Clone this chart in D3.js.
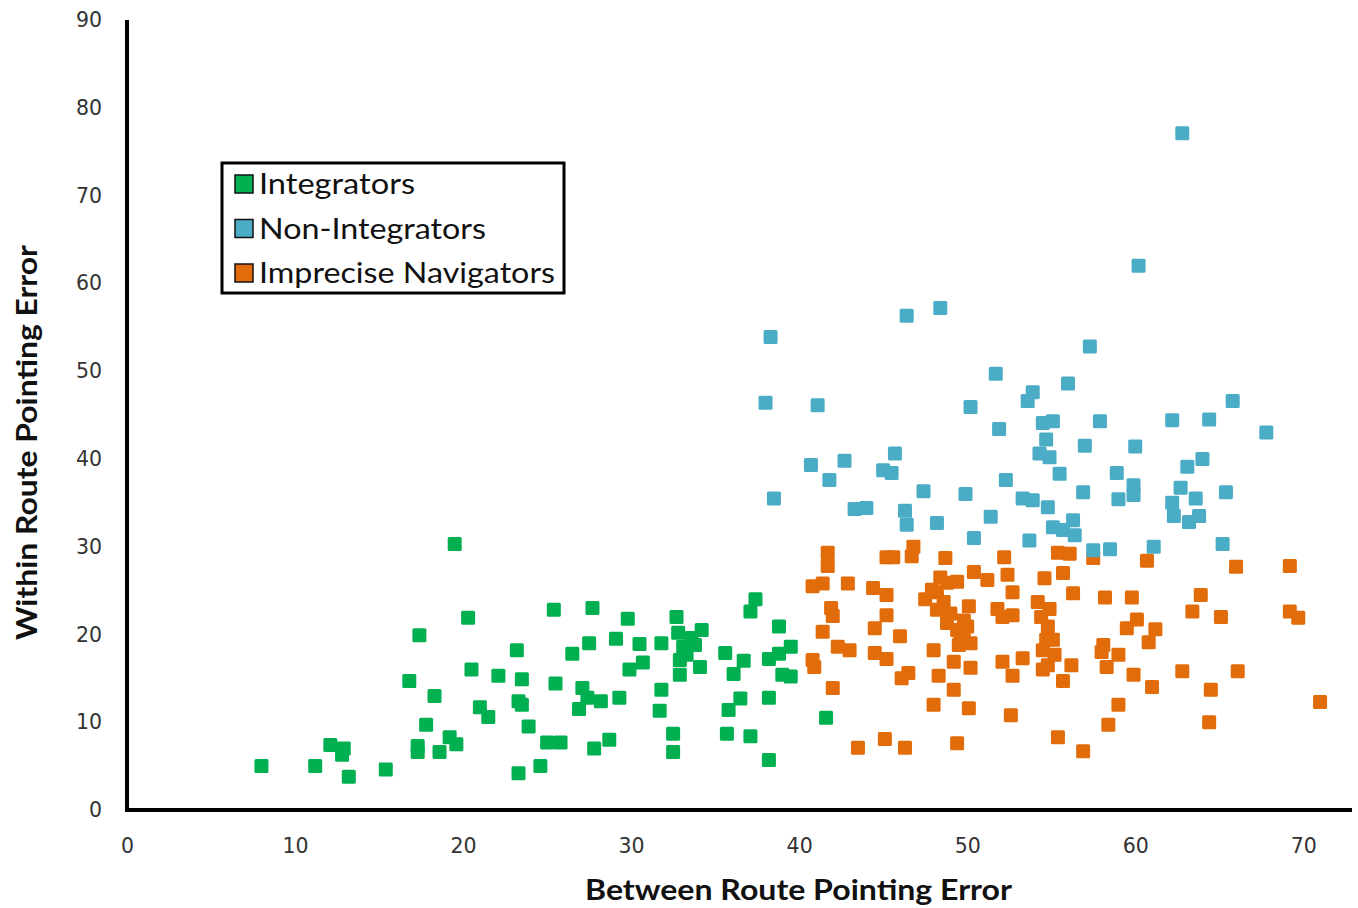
<!DOCTYPE html>
<html>
<head>
<meta charset="utf-8">
<script src="https://cdn.jsdelivr.net/npm/d3@7"></script>
<style>
  body { margin: 0; background: #fff; }
  svg { display: block; }
</style>
</head>
<body>
<svg id="chart" width="1358" height="908"></svg>
<script>
// series: [between route error, within route error]
const integrators = [
  [8.0,5.0],[11.2,5.0],[12.1,7.4],[12.9,7.0],[12.8,6.3],[13.2,3.8],[15.4,4.6],[19.5,30.3],[20.3,21.9],[17.4,19.9],
  [20.5,16.0],[22.1,15.3],[16.8,14.7],[18.3,13.0],[21.0,11.7],[21.5,10.6],[17.8,9.7],[19.2,8.3],[19.6,7.5],[17.3,7.3],
  [17.3,6.6],[18.6,6.6],[25.4,22.8],[27.7,23.0],[29.8,21.8],[32.7,22.0],[37.4,24.0],[37.1,22.6],[38.8,20.9],[34.2,20.5],
  [32.8,20.2],[23.2,18.2],[27.5,19.0],[29.1,19.5],[30.5,18.9],[31.8,19.0],[26.5,17.8],[33.1,18.6],[33.8,18.8],[30.7,16.8],
  [29.9,16.0],[32.9,17.1],[32.9,15.4],[34.1,16.3],[35.6,17.9],[36.7,17.0],[36.1,15.5],[38.2,17.2],[38.8,17.8],[39.5,18.6],
  [39.0,15.4],[39.5,15.2],[23.5,14.9],[25.5,14.4],[27.1,13.9],[27.4,12.8],[28.2,12.4],[26.9,11.5],[29.3,12.8],[31.8,13.7],
  [31.7,11.3],[23.3,12.4],[23.5,12.0],[36.5,12.7],[35.8,11.4],[38.2,12.8],[23.9,9.5],[25.0,7.7],[25.8,7.7],[28.7,8.0],
  [27.8,7.0],[32.5,8.7],[32.5,6.6],[35.7,8.7],[37.1,8.4],[38.2,5.7],[24.6,5.0],[23.3,4.2],[41.6,10.5],[33.3,17.7],[33.6,19.6]
];

const nonIntegrators = [
  [62.8,77.1],[60.2,62.0],[46.4,56.3],[48.4,57.2],[38.3,53.9],[51.7,49.7],[38.0,46.4],[41.1,46.1],[50.2,45.9],[51.9,43.4],
  [45.7,40.6],[40.7,39.3],[42.7,39.8],[41.8,37.6],[45.0,38.7],[45.5,38.4],[38.5,35.5],[47.4,36.3],[49.9,36.0],[52.3,37.6],
  [43.3,34.3],[44.0,34.4],[46.3,34.1],[46.4,32.5],[48.2,32.7],[51.4,33.4],[50.4,31.0],[57.3,52.8],[56.0,48.6],[53.9,47.6],
  [53.6,46.6],[65.8,46.6],[62.2,44.4],[64.4,44.5],[67.8,43.0],[57.9,44.3],[54.5,44.1],[55.1,44.3],[57.0,41.5],[60.0,41.4],
  [54.7,42.2],[54.3,40.6],[54.9,40.2],[64.0,40.0],[63.1,39.1],[55.5,38.3],[58.9,38.4],[56.9,36.2],[62.7,36.7],[59.9,37.0],
  [59.9,35.9],[63.6,35.5],[65.4,36.2],[59.0,35.4],[53.3,35.5],[53.9,35.3],[54.8,34.5],[62.2,35.0],[62.3,33.5],[63.2,32.8],
  [63.8,33.5],[55.1,32.2],[56.3,33.0],[56.4,31.3],[55.7,31.9],[53.7,30.7],[65.2,30.3],[57.5,29.6],[58.5,29.7],[61.1,30.0]
];

const impreciseNavigators = [
  [41.7,29.3],[41.7,27.8],[45.2,28.8],[45.6,28.8],[46.8,30.0],[46.7,28.9],[48.7,28.7],[52.2,28.8],[40.8,25.5],[41.4,25.8],
  [42.9,25.8],[44.4,25.3],[45.2,24.5],[48.4,26.5],[49.4,26.0],[50.4,27.1],[51.2,26.2],[52.4,26.8],[47.5,24.0],[48.2,24.8],
  [48.6,23.7],[48.2,22.8],[50.1,23.2],[41.9,23.0],[42.0,22.1],[45.2,22.2],[51.8,22.9],[52.1,22.0],[41.4,20.3],[44.5,20.7],
  [46.0,19.8],[48.8,21.3],[49.4,20.5],[49.6,19.6],[50.2,19.0],[49.5,18.8],[42.3,18.6],[43.0,18.2],[44.5,17.9],[45.2,17.2],
  [48.0,18.2],[49.2,16.9],[50.2,16.2],[52.1,16.9],[40.8,17.1],[40.9,16.3],[46.5,15.6],[46.1,15.0],[48.3,15.3],[49.2,13.7],
  [42.0,13.9],[48.0,12.0],[50.1,11.6],[52.6,10.8],[43.5,7.1],[45.1,8.1],[46.3,7.1],[49.4,7.6],[47.9,25.1],[48.8,25.9],
  [49.0,22.4],[49.8,21.6],[49.8,20.2],[50.0,20.9],[55.4,29.3],[56.1,29.2],[57.5,28.7],[60.7,28.4],[66.0,27.7],[69.2,27.8],
  [54.6,26.4],[55.7,27.0],[52.7,24.8],[56.3,24.7],[58.2,24.2],[59.8,24.2],[63.9,24.5],[63.4,22.6],[65.1,22.0],[69.2,22.6],
  [69.7,21.9],[54.2,23.7],[54.9,22.9],[52.7,22.2],[54.4,22.0],[54.8,20.9],[55.1,19.4],[54.5,18.2],[55.2,17.7],[60.1,21.7],
  [59.5,20.7],[61.2,20.6],[60.8,19.1],[58.1,18.8],[58.0,18.0],[59.0,17.7],[53.3,17.3],[52.7,15.3],[54.5,16.0],[56.2,16.5],
  [55.7,14.7],[58.3,16.3],[59.9,15.4],[61.0,14.0],[62.8,15.8],[66.1,15.8],[64.5,13.7],[71.0,12.3],[59.0,12.0],[58.4,9.7],
  [64.4,10.0],[55.4,8.3],[56.9,6.7],[54.7,19.4],[54.8,16.5]
];

const seriesNames = ["Integrators", "Non-Integrators", "Imprecise Navigators"];
const seriesColors = ["#00b050", "#4bacc6", "#e36c0a"];
const legendWidths = [156, 227, 296];
const xTicks = [0, 10, 20, 30, 40, 50, 60, 70];
const yTicks = [0, 10, 20, 30, 40, 50, 60, 70, 80, 90];

const svg = d3.select("#chart");

const x = d3.scaleLinear().domain([0, 72.9]).range([127, 1352]);
const y = d3.scaleLinear().domain([0, 90]).range([810, 20]);

// axes (no tick marks, just labels)
const yAxis = svg.append("g")
  .attr("transform", "translate(127,0)")
  .call(d3.axisLeft(y).tickValues(yTicks).tickSize(0).tickPadding(25));
yAxis.select(".domain").remove();

const xAxis = svg.append("g")
  .attr("transform", "translate(0,810)")
  .call(d3.axisBottom(x).tickValues(xTicks).tickSize(0).tickPadding(28));
xAxis.select(".domain").remove();

svg.selectAll(".tick text")
  .attr("font-family", "DejaVu Sans, sans-serif")
  .attr("font-size", 20.5)
  .attr("fill", "#333");

// axis lines
svg.append("path")
  .attr("d", `M127,${y(90)}V810H${x(72.9)}`)
  .attr("fill", "none")
  .attr("stroke", "#000")
  .attr("stroke-width", 4);

// points: green, orange, then blue on top
const drawOrder = [
  { data: integrators, color: seriesColors[0] },
  { data: impreciseNavigators, color: seriesColors[2] },
  { data: nonIntegrators, color: seriesColors[1] }
];
const sz = 14;
drawOrder.forEach(s => {
  svg.append("g")
    .selectAll("rect")
    .data(s.data)
    .enter()
    .append("rect")
    .attr("x", d => x(d[0]) - sz / 2)
    .attr("y", d => y(d[1]) - sz / 2)
    .attr("width", sz)
    .attr("height", sz)
    .attr("rx", 1.5)
    .attr("fill", s.color);
});

// axis titles
svg.append("text")
  .attr("x", 585).attr("y", 900)
  .attr("font-family", "Lato, sans-serif")
  .attr("font-weight", "bold")
  .attr("font-size", 29)
  .attr("textLength", 427)
  .attr("lengthAdjust", "spacingAndGlyphs")
  .attr("fill", "#111")
  .text("Between Route Pointing Error");

svg.append("text")
  .attr("transform", "translate(37,640) rotate(-90)")
  .attr("font-family", "Lato, sans-serif")
  .attr("font-weight", "bold")
  .attr("font-size", 29)
  .attr("textLength", 395)
  .attr("lengthAdjust", "spacingAndGlyphs")
  .attr("fill", "#111")
  .text("Within Route Pointing Error");

// legend
const legend = svg.append("g").attr("transform", "translate(222,163)");
legend.append("rect")
  .attr("width", 342).attr("height", 130)
  .attr("fill", "#fff")
  .attr("stroke", "#000")
  .attr("stroke-width", 3);

const item = legend.selectAll("g.item")
  .data(seriesNames)
  .enter()
  .append("g")
  .attr("class", "item")
  .attr("transform", (d, i) => `translate(13,${21 + i * 44.5})`);

item.append("rect")
  .attr("y", -9).attr("width", 18).attr("height", 18)
  .attr("fill", (d, i) => seriesColors[i])
  .attr("stroke", "#111")
  .attr("stroke-width", 1.5);

item.append("text")
  .attr("x", 24)
  .attr("dy", "0.36em")
  .attr("font-family", "Lato, sans-serif")
  .attr("font-size", 28)
  .attr("textLength", (d, i) => legendWidths[i])
  .attr("lengthAdjust", "spacingAndGlyphs")
  .attr("fill", "#111")
  .text(d => d);
</script>
</body>
</html>
